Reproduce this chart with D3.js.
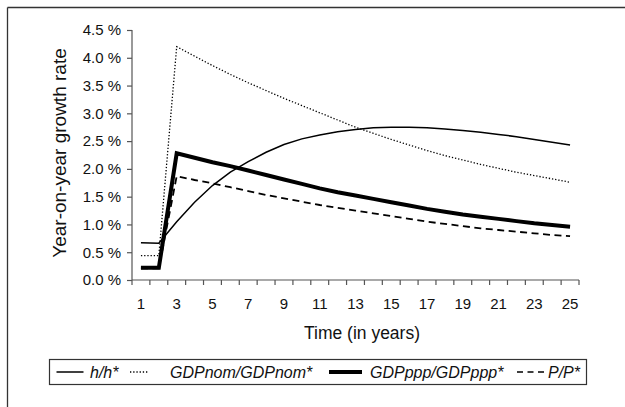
<!DOCTYPE html>
<html><head><meta charset="utf-8">
<script src="https://cdn.jsdelivr.net/npm/d3@7"></script>
<style>body{margin:0;background:#fff}svg{display:block;font-family:"Liberation Sans",Arial,sans-serif}</style>
</head><body>
<svg id="c" width="625" height="407"></svg>
<script>
const years = d3.range(1, 26);
const yTicks = [0, 0.5, 1, 1.5, 2, 2.5, 3, 3.5, 4, 4.5];
const xTickLabels = [1, 3, 5, 7, 9, 11, 13, 15, 17, 19, 21, 23, 25];
const hh = [0.67,0.66,1.05,1.40,1.70,1.94,2.13,2.30,2.44,2.54,2.61,2.67,2.71,2.74,2.75,2.75,2.74,2.72,2.69,2.66,2.62,2.58,2.53,2.48,2.43];
const gdpNom = [0.44,0.44,4.20,4.03,3.86,3.70,3.55,3.41,3.27,3.14,3.01,2.88,2.75,2.64,2.53,2.43,2.33,2.24,2.16,2.08,2.01,1.94,1.88,1.82,1.76];
const gdpPpp = [0.22,0.22,2.28,2.20,2.12,2.05,1.97,1.89,1.81,1.73,1.65,1.58,1.52,1.46,1.40,1.34,1.28,1.23,1.18,1.14,1.10,1.06,1.02,0.99,0.96];
const pp = [0.21,0.21,1.87,1.80,1.74,1.67,1.60,1.53,1.47,1.41,1.35,1.30,1.25,1.20,1.15,1.10,1.05,1.01,0.97,0.93,0.90,0.87,0.84,0.81,0.79];
const seriesNames = ["h/h*", "GDPnom/GDPnom*", "GDPppp/GDPppp*", "P/P*"];

const svg = d3.select("#c");
const axisColor = "#555";
const L = 132, R = 579, T = 30, B = 280;

// outer frame (top and left edges)
svg.append("line").attr("x1",7.5).attr("y1",7.5).attr("x2",625).attr("y2",7.5).attr("stroke","#333").attr("stroke-width",1.3);
svg.append("line").attr("x1",7.5).attr("y1",7.5).attr("x2",7.5).attr("y2",407).attr("stroke","#333").attr("stroke-width",1.3);

const x = d3.scaleBand().domain(years).range([L, R]).padding(0);
const xc = d => x(d) + x.bandwidth()/2;
const y = d3.scaleLinear().domain([0, 4.5]).range([B, T]);

// y axis
const ya = svg.append("g").attr("transform",`translate(${L},0)`)
  .call(d3.axisLeft(y).tickValues(yTicks).tickSize(5).tickPadding(6).tickFormat(d => d3.format(".1f")(d) + " %"));
ya.selectAll("path,line").attr("stroke",axisColor).attr("stroke-width",1.2);
ya.selectAll("text").attr("font-size",15).attr("fill","#111").attr("font-family",'"Liberation Sans",Arial,sans-serif');
ya.select("path").attr("d",`M0,${T}V${B}`);

// x axis: ticks at category boundaries
const xg = svg.append("g").attr("transform",`translate(0,${B})`);
xg.append("line").attr("x1",L).attr("x2",R).attr("stroke",axisColor).attr("stroke-width",1.2);
const bounds = years.map(d => x(d)).concat([R]);
xg.selectAll("line.t").data(bounds).enter().append("line").attr("class","t")
  .attr("x1",d=>d).attr("x2",d=>d).attr("y1",0).attr("y2",5).attr("stroke",axisColor).attr("stroke-width",1.2);
xg.selectAll("text").data(xTickLabels).enter().append("text")
  .attr("x",d=>xc(d)).attr("y",29).attr("text-anchor","middle").attr("font-size",15).attr("fill","#111").text(d=>d);

// axis titles
svg.append("text").attr("transform","translate(66,153) rotate(-90)").attr("text-anchor","middle")
  .attr("font-size",19).attr("fill","#111").text("Year-on-year growth rate");
svg.append("text").attr("x",362).attr("y",339).attr("text-anchor","middle")
  .attr("font-size",17.5).attr("fill","#111").text("Time (in years)");

const styles = [
  {w:1.5, dash:null},
  {w:1.3, dash:"1.3,1.9"},
  {w:4, dash:null},
  {w:1.8, dash:"7,4.5"}
];
const data = [hh, gdpNom, gdpPpp, pp];
const line = d3.line().x((d,i)=>xc(years[i])).y(d=>y(d));
// draw order: nom, h, P, ppp on top
[1,0,3,2].forEach(k=>{
  svg.append("path").attr("d",line(data[k])).attr("fill","none").attr("stroke","#000")
    .attr("stroke-width",styles[k].w).attr("stroke-dasharray",styles[k].dash).attr("stroke-linejoin","miter");
});

// legend
const lg = svg.append("g");
lg.append("rect").attr("x",49.5).attr("y",359.5).attr("width",537).attr("height",25).attr("fill","#fff").attr("stroke","#333").attr("stroke-width",1.2);
const legX = [[56.5,83.5,90],[130,148,170],[329,362,370],[517,545,548]];
const ly = 372;
seriesNames.forEach((n,k)=>{
  const [a,b,t] = legX[k];
  lg.append("line").attr("x1",a).attr("x2",b).attr("y1",ly).attr("y2",ly).attr("stroke","#000")
    .attr("stroke-width",k===2?4:1.5).attr("stroke-dasharray",k===1?"1.3,1.9":(k===3?"6,4.5":null));
  lg.append("text").attr("x",t).attr("y",ly+6).attr("font-size",16).attr("font-style","italic").attr("fill","#111").text(n);
});
</script>
</body></html>
